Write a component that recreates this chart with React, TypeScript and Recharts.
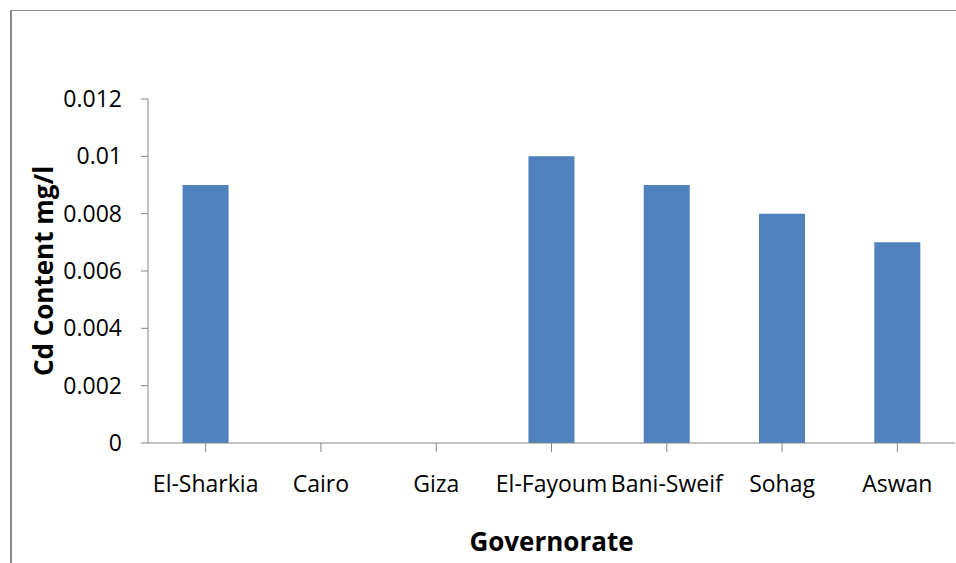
import { BarChart, Bar, XAxis, YAxis } from 'recharts';

// Cd content per governorate (mg/l)
const governorates = ['El-Sharkia', 'Cairo', 'Giza', 'El-Fayoum', 'Bani-Sweif', 'Sohag', 'Aswan'];
const cdContent = [0.009, 0, 0, 0.01, 0.009, 0.008, 0.007];
const yTicks = [0, 0.002, 0.004, 0.006, 0.008, 0.01, 0.012];

const data = governorates.map((name, i) => ({ name, cd: cdContent[i] }));

const FONT = '"Open Sans", sans-serif';
const AXIS = '#868686';

const YTitle = (props: any) => {
  const { viewBox } = props;
  const cx = 53;
  const cy = viewBox.y + viewBox.height / 2;
  return (
    <text
      x={cx}
      y={cy}
      transform={`rotate(-90, ${cx}, ${cy})`}
      textAnchor="middle"
      fontFamily={FONT}
      fontWeight={700}
      fontSize={26}
      fill="#000"
    >
      Cd Content mg/l
    </text>
  );
};

const XTitle = (props: any) => {
  const { viewBox } = props;
  return (
    <text
      x={viewBox.x + viewBox.width / 2}
      y={551}
      textAnchor="middle"
      fontFamily={FONT}
      fontWeight={700}
      fontSize={26}
      fill="#000"
    >
      Governorate
    </text>
  );
};

export default function App() {
  return (
    <div
      style={{
        position: 'absolute',
        left: 0,
        top: 0,
        width: 956,
        height: 563,
        background: '#fff',
        overflow: 'hidden',
      }}
    >
      <div
        style={{
          position: 'absolute',
          left: 10,
          top: 10,
          width: 1000,
          height: 600,
          borderLeft: '2px solid #888',
          borderTop: '1px solid #888',
        }}
      />
      <BarChart
        width={956}
        height={563}
        data={data}
        margin={{ top: 99, right: 1, bottom: 0, left: 0 }}
        barCategoryGap="30%"
        style={{ position: 'absolute', left: 0, top: 0 }}
      >
        <XAxis
          dataKey="name"
          height={120}
          stroke={AXIS}
          tickLine={{ stroke: AXIS }}
          tickSize={9}
          tickMargin={24}
          interval={0}
          tick={{ fill: '#000', fontFamily: FONT, fontSize: 23 }}
          label={<XTitle />}
        />
        <YAxis
          width={148}
          domain={[0, 0.012]}
          ticks={yTicks}
          stroke={AXIS}
          tickLine={{ stroke: AXIS }}
          tickSize={7}
          tickMargin={19}
          tick={{ fill: '#000', fontFamily: FONT, fontSize: 23 }}
          label={<YTitle />}
        />
        <Bar dataKey="cd" fill="#4F81BD" isAnimationActive={false} />
      </BarChart>
    </div>
  );
}
